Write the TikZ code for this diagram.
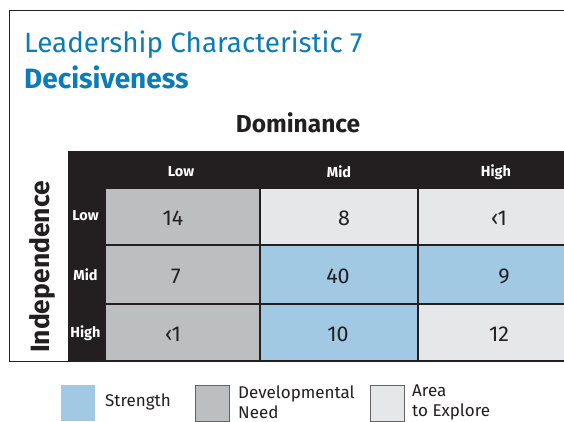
\documentclass[tikz,border=0pt]{standalone}
\usepackage{fontspec}
\setmainfont{Fira Sans}
\definecolor{titleblue}{HTML}{0A7DB8}
\definecolor{ink}{HTML}{231F20}
\definecolor{devgray}{HTML}{BCBEC0}
\definecolor{lightgray}{HTML}{E6E7E8}
\definecolor{strblue}{HTML}{A2C9E3}
\tikzset{
  cell/.style={draw=ink, line width=1.6pt, inner sep=0pt, minimum width=#1},
  hdr/.style={text=white, font=\bfseries\fontsize{14.5}{16}\selectfont, inner sep=0pt},
  num/.style={text=ink, font=\fontsize{21.5}{24}\selectfont, inner sep=0pt},
  legbox/.style={minimum width=34pt, minimum height=36pt, inner sep=0pt},
  legtext/.style={text=ink, font=\fontsize{17}{20}\selectfont, align=left, anchor=west, inner sep=0pt}
}
\begin{document}
\begin{tikzpicture}[x=1pt,y=-1pt]
\useasboundingbox (0,0) rectangle (564,422);
\fill[white] (0,0) rectangle (564,422);
% frame
\draw[ink, line width=1pt] (580,11) -- (9.5,11) -- (9.5,361.5) -- (580,361.5);
% titles
\node[anchor=base west, inner sep=0pt, text=titleblue, font=\fontsize{27.8}{30}\selectfont] (t1) at (24,53) {Leadership Characteristic 7};
\node[anchor=base west, inner sep=0pt, text=titleblue, font=\bfseries\fontsize{28}{30}\selectfont] (t2) at (24,89) {Decisiveness};
\node[anchor=base, inner sep=0pt, text=ink, font=\bfseries\fontsize{24.5}{26}\selectfont] (dom) at (298,133) {Dominance};
\node[rotate=90, anchor=base, inner sep=0pt, text=ink, font=\bfseries\fontsize{26.5}{28}\selectfont] (ind) at (49,267) {Independence};
% black header areas
\fill[ink] (68,151) rectangle (580,188);
\fill[ink] (68,151) rectangle (105,362);
% cells
\node[cell=155pt, minimum height=57pt, fill=devgray] (c11) at (182.5,216.5) {};
\node[cell=158pt, minimum height=57pt, fill=lightgray] (c12) at (339,216.5) {};
\node[cell=160pt, minimum height=57pt, fill=lightgray] (c13) at (498,216.5) {};
\node[cell=155pt, minimum height=59pt, fill=devgray] (c21) at (182.5,274.5) {};
\node[cell=158pt, minimum height=59pt, fill=strblue] (c22) at (339,274.5) {};
\node[cell=160pt, minimum height=59pt, fill=strblue] (c23) at (498,274.5) {};
\node[cell=155pt, minimum height=57pt, fill=devgray] (c31) at (182.5,332.5) {};
\node[cell=158pt, minimum height=57pt, fill=strblue] (c32) at (339,332.5) {};
\node[cell=160pt, minimum height=57pt, fill=lightgray] (c33) at (498,332.5) {};
% bottom line over cells
\draw[ink, line width=1pt] (9.5,361.5) -- (580,361.5);
% column headers
\node[hdr] (hl) at (181,172) {Low};
\node[hdr] (hm) at (339,172) {Mid};
\node[hdr] (hh) at (496,172) {High};
% row headers
\node[hdr] (rl) at (85.5,216) {Low};
\node[hdr] (rm) at (85.5,275) {Mid};
\node[hdr] (rh) at (85.5,333) {High};
% numbers
\node[num] (n11) at (173,218) {14};
\node[num] (n12) at (344,218) {8};
\node[num] (n13) at (499,218) {‹1};
\node[num] (n21) at (176,276) {7};
\node[num] (n22) at (338,276) {40};
\node[num] (n23) at (504,276) {9};
\node[num] (n31) at (173,334) {‹1};
\node[num] (n32) at (338,334) {10};
\node[num] (n33) at (499,334) {12};
% legend
\node[legbox, fill=strblue] (ls) at (78,403) {};
\node[legtext] (lst) at (105,402) {Strength};
\node[legbox, fill=devgray, draw=ink!70, line width=0.8pt] (ld) at (212,403) {};
\node[legtext] (ldt) at (238,402) {Developmental\\Need};
\node[legbox, fill=lightgray, draw=ink!70, line width=0.8pt] (la) at (387,403) {};
\node[legtext] (lat) at (412,402) {Area\\to Explore};
\end{tikzpicture}
\end{document}
